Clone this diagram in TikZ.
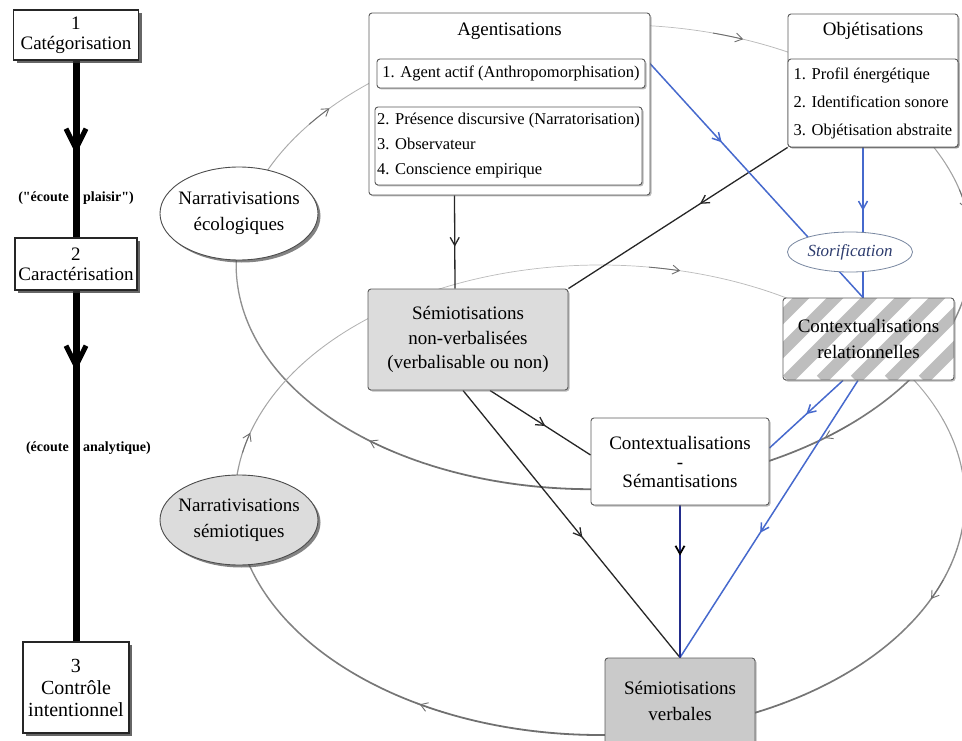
\documentclass[tikz,border=0pt]{standalone}
\usepackage{fontspec}
\setmainfont{Liberation Serif}
\newfontfamily\rawserif{Liberation Serif}[Ligatures=TeXOff]
\usetikzlibrary{arrows.meta,shapes.geometric,shadows,decorations.markings,calc}

\definecolor{myblue}{RGB}{70,105,205}
\definecolor{navyline}{RGB}{35,45,140}
\definecolor{boxborder}{RGB}{90,90,90}
\definecolor{fillA}{RGB}{220,220,220}
\definecolor{fillB}{RGB}{202,202,202}
\definecolor{stripe}{RGB}{190,190,190}
\definecolor{arcL}{RGB}{190,190,190}
\definecolor{arcD}{RGB}{110,110,110}
\definecolor{storytext}{RGB}{45,60,110}
\definecolor{storyborder}{RGB}{120,135,160}

\pgfdeclarelayer{bg}
\pgfdeclarelayer{edges}
\pgfsetlayers{bg,edges,main}

\tikzset{
  stage/.style={draw=black!85, line width=1.1pt, fill=white, inner sep=0pt, align=center,
    font=\fontsize{19}{20}\selectfont,
    drop shadow={shadow xshift=3pt, shadow yshift=-3pt, opacity=0.75, fill=black!80}},
  card/.style={draw=boxborder, line width=0.9pt, rounded corners=3pt, fill=white, inner sep=0pt, align=center,
    drop shadow={shadow xshift=1.5pt, shadow yshift=-1.5pt, opacity=0.45, fill=black!60}},
  bigtext/.style={font=\fontsize{19}{24}\selectfont},
  listtext/.style={font=\fontsize{16.5}{25}\selectfont},
  oval/.style={ellipse, draw=black!70, line width=0.9pt, fill=white, inner xsep=-20pt, inner ysep=0pt, align=center,
    font=\fontsize{19}{26}\selectfont,
    drop shadow={shadow xshift=2.5pt, shadow yshift=-2.5pt, opacity=0.65, fill=black!75}},
  stripes/.style={path picture={
    \foreach \i in {0,...,11}{
      \draw[draw=stripe, line width=12pt] ($(path picture bounding box.south west)+(\i*34-200,0)$) -- ++(300pt,300pt);
    }}},
  flow/.style={draw=black!85, line width=1.3pt},
  blueflow/.style={draw=myblue, line width=1.5pt},
  navyflow/.style={draw=navyline, line width=1.8pt},
  bigflow/.style={draw=black, line width=7pt},
  midarrow/.style={postaction={decorate}, decoration={markings,
    mark=at position #1 with {\arrow{Straight Barb[length=8pt,width=9pt]}}}},
  navymid/.style={postaction={decorate}, decoration={markings,
    mark=at position #1 with {\arrow[black]{Straight Barb[length=8pt,width=9pt]}}}},
  bigarrow/.style={postaction={decorate}, decoration={markings,
    mark=at position #1 with {\arrow{Straight Barb[length=20pt,width=20pt,line width=5pt]}}}},
  lbl/.style={inner sep=0pt, font=\rawserif\bfseries\fontsize{14}{16}\selectfont},
  cyclearrow/.style={-{Straight Barb[length=7pt,width=9pt]}, line width=0.9pt, draw=arcD},
}

\begin{document}
\begin{tikzpicture}[x=1pt,y=-1pt]
\useasboundingbox (0,0) rectangle (962,741);

% ---------- left column ----------
\node[stage, minimum width=125pt, minimum height=50pt] (c1) at (76,35) {1\\Catégorisation};
\node[stage, minimum width=122pt, minimum height=52pt] (c2) at (76,264) {2\\Caractérisation};
\node[stage, minimum width=106pt, minimum height=91pt, font=\fontsize{20}{22}\selectfont] (c3) at (76,687.5) {3\\Contrôle\\intentionnel};

\node[lbl, anchor=east] (l1a) at (69,198) {("écoute};
\node[lbl, anchor=west] (l1b) at (83,198) {plaisir")};
\node[lbl, anchor=east] (l2a) at (69,448) {(écoute};
\node[lbl, anchor=west] (l2b) at (83,448) {analytique)};

% ---------- ovals ----------
\node[oval, minimum width=158pt, minimum height=93pt] (neco) at (239,213.5) {Narrativisations\\écologiques};
\node[oval, fill=fillA, minimum width=158pt, minimum height=90pt] (nsem) at (239,520) {Narrativisations\\sémiotiques};

% ---------- Agentisations ----------
\node[card, minimum width=281pt, minimum height=182pt] (agent) at (509.5,104) {};
\node[bigtext] (agtitle) at (509.5,31) {Agentisations};
\node[card, listtext, minimum width=268pt, minimum height=29pt] (agent1) at (511,73.5) {1. Agent actif (Anthropomorphisation)};
\node[card, listtext, align=left, minimum width=267pt, minimum height=78pt] (agent2) at (508.5,146) {2. Présence discursive (Narratorisation)\\3. Observateur\\4. Conscience empirique};

% ---------- Objétisations ----------
\node[card, minimum width=170pt, minimum height=133pt] (obj) at (873,80.5) {};
\node[bigtext] (objtitle) at (873,31) {Objétisations};
\node[card, align=left, minimum width=170pt, minimum height=88pt, font=\fontsize{16.5}{28}\selectfont] (objin) at (873,103) {1. Profil énergétique\\2. Identification sonore\\3. Objétisation abstraite};

% ---------- other boxes ----------
\node[card, fill=fillA, minimum width=200pt, minimum height=101pt, font=\fontsize{19}{24.5}\selectfont] (semnv) at (468,339.5) {Sémiotisations\\non-verbalisées\\(verbalisable ou non)};
\node[card, stripes, minimum width=171pt, minimum height=82pt, font=\fontsize{19}{26}\selectfont] (ctxrel) at (868.5,339) {Contextualisations\\relationnelles};
\node[card, minimum width=178pt, minimum height=87pt, font=\fontsize{19}{19}\selectfont] (ctxsem) at (680,461.5) {Contextualisations\\-\\Sémantisations};
\node[card, fill=fillB, minimum width=150pt, minimum height=86pt, font=\fontsize{19}{26}\selectfont] (semv) at (680,701) {Sémiotisations\\verbales};
\node[ellipse, draw=storyborder, line width=0.8pt, fill=white, minimum width=125pt, minimum height=40pt, inner sep=0pt,
      font=\itshape\fontsize{17}{20}\selectfont, text=storytext] (stor) at (850,252) {Storification};

\coordinate (sv) at (863,0);

% ---------- cycles ----------
\begin{pgfonlayer}{bg}
\begin{scope}[shift={(604,257)}, rotate=2]
  \coordinate (E1) at (0,0);
  \foreach \t in {0,4,...,356}{
    \pgfmathsetmacro\k{50*(1+sin(\t+2))}
    \pgfmathsetmacro\w{0.7+0.011*\k}
    \pgfmathsetmacro\te{\t+4}
    \draw[line width=\w pt, draw=arcD!\k!arcL, line cap=round] (\t:368 and 232) arc[start angle=\t, end angle=\te, x radius=368, y radius=232];
  }
  \foreach \t in {223,293.5,351.3,54.4,130.9}{
    \pgfmathsetmacro\ts{\t-5}
    \draw[cyclearrow] (\ts:368 and 232) arc[start angle=\ts, end angle=\t, x radius=368, y radius=232];
  }
\end{scope}
\begin{scope}[shift={(600,500)}]
  \coordinate (E2) at (0,0);
  \foreach \t in {0,4,...,356}{
    \pgfmathsetmacro\k{50*(1+sin(\t+2))}
    \pgfmathsetmacro\w{0.7+0.011*\k}
    \pgfmathsetmacro\te{\t+4}
    \draw[line width=\w pt, draw=arcD!\k!arcL, line cap=round] (\t:365 and 235) arc[start angle=\t, end angle=\te, x radius=365, y radius=235];
  }
  \foreach \t in {196.6,282.7,24.9,119.6}{
    \pgfmathsetmacro\ts{\t-5}
    \draw[cyclearrow] (\ts:365 and 235) arc[start angle=\ts, end angle=\t, x radius=365, y radius=235];
  }
\end{scope}
\end{pgfonlayer}

% ---------- connectors ----------
\begin{pgfonlayer}{edges}
\draw[bigflow, bigarrow=0.53] (c1.south) -- (c2.north);
\draw[bigflow, bigarrow=0.23] (c2.south) -- (c3.north);
\draw[flow, midarrow=0.55] ([xshift=-55pt]agent.south) -- ([xshift=-13pt]semnv.north);
\draw[flow, midarrow=0.4] (obj.south west) -- (semnv.north east);
\draw[blueflow, midarrow=0.35] (agent1.north east) -- (ctxrel.north -| sv);
\draw[blueflow, midarrow=0.75] (obj.south -| sv) -- (stor.north -| sv);
\draw[blueflow] (stor.south -| sv) -- (ctxrel.north -| sv);
\draw[blueflow, midarrow=0.5] ([xshift=-25.5pt]ctxrel.south) -- ([yshift=13.5pt]ctxsem.east);
\draw[blueflow, midarrow=0.55] ([xshift=-10.5pt]ctxrel.south) -- (semv.north);
\draw[flow, midarrow=0.55] ([xshift=22pt]semnv.south) -- ([yshift=6.5pt]ctxsem.west);
\draw[flow, midarrow=0.55] ([xshift=-5pt]semnv.south) -- (semv.north);
\draw[navyflow, navymid=0.33] (ctxsem.south) -- (semv.north);
\end{pgfonlayer}
\end{tikzpicture}
\end{document}
